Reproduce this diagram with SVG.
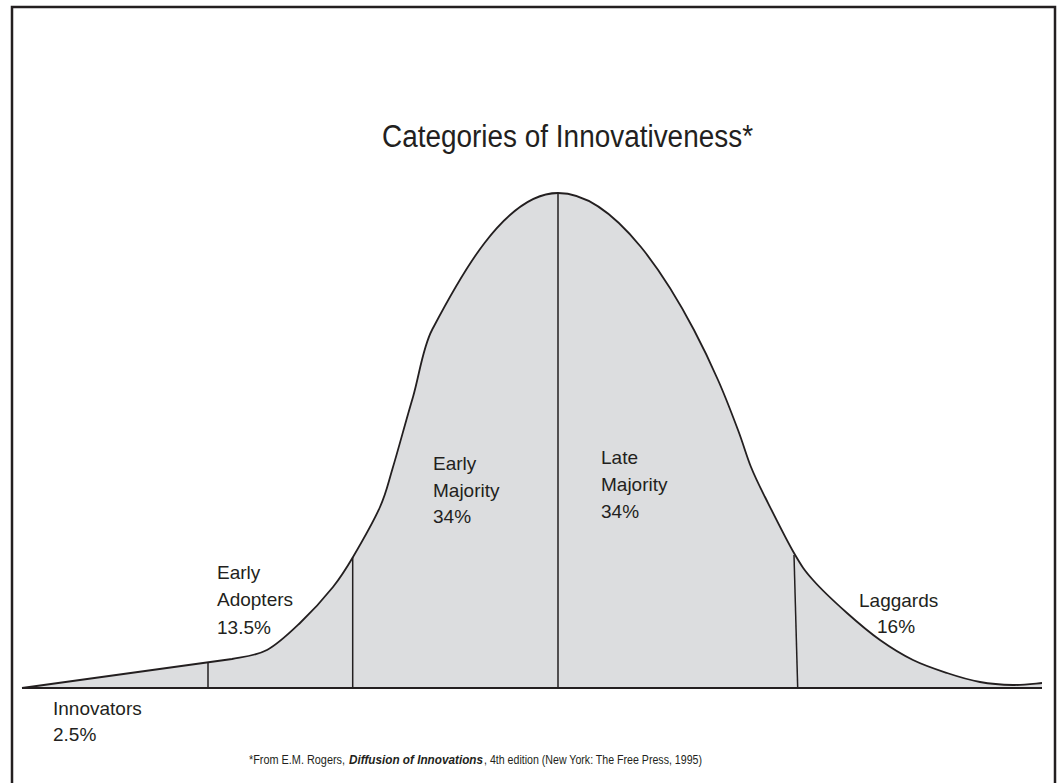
<svg xmlns="http://www.w3.org/2000/svg" width="1060" height="783" viewBox="0 0 1060 783">
<style>
.lbl{font-family:"Liberation Sans",Arial,sans-serif;font-size:19px;fill:#231f20}
.title{font-family:"Liberation Sans",Arial,sans-serif;font-size:31px;fill:#231f20}
.foot{font-family:"Liberation Sans",Arial,sans-serif;font-size:12.5px;fill:#231f20}
.div{stroke:#231f20;stroke-width:1.5;fill:none}
</style>
<defs>
<path id="bell" d="M22,688 L232,659 C241.8,657 255.7,656 267,650 C278.3,644 289,633.5 300,623 C311,612.5 324.2,598 333,587 C341.8,576 345.2,570.3 353,557 C360.8,543.7 373.3,522 380,507 C386.7,492 387.5,485.3 393,467 C398.5,448.7 406.2,419.8 413,397 C419.5,374.2 422.8,347.5 432,330 C455.7,285 503,193 558,193 C618,193 673.3,290.7 694,330 C703.2,347.5 710.7,363.3 718,380 C725.5,396.7 732.5,415.5 738,430 C743.5,444.5 746.5,455.8 751,467 C755.5,478.2 757.8,482.7 765,497 C772.2,511.3 786,539.2 794,553 C802,566.8 804.2,570 813,580 C821.8,590 835.8,603 847,613 C858.2,623 869,632.2 880,640 C891,647.8 901.8,654.5 913,660 C924.2,665.5 935.8,669.3 947,673 C958.2,676.7 969,680 980,682 C991,684 1002.7,684.8 1013,685 C1023.3,685.2 1037.2,683.3 1042,683"/>
</defs>
<rect x="0" y="0" width="1060" height="783" fill="#ffffff"/>
<rect id="frame" x="12" y="7" width="1043" height="790" fill="none" stroke="#231f20" stroke-width="2.5"/>
<g id="curve">
<path d="M22,688 L232,659 C241.8,657 255.7,656 267,650 C278.3,644 289,633.5 300,623 C311,612.5 324.2,598 333,587 C341.8,576 345.2,570.3 353,557 C360.8,543.7 373.3,522 380,507 C386.7,492 387.5,485.3 393,467 C398.5,448.7 406.2,419.8 413,397 C419.5,374.2 422.8,347.5 432,330 C455.7,285 503,193 558,193 C618,193 673.3,290.7 694,330 C703.2,347.5 710.7,363.3 718,380 C725.5,396.7 732.5,415.5 738,430 C743.5,444.5 746.5,455.8 751,467 C755.5,478.2 757.8,482.7 765,497 C772.2,511.3 786,539.2 794,553 C802,566.8 804.2,570 813,580 C821.8,590 835.8,603 847,613 C858.2,623 869,632.2 880,640 C891,647.8 901.8,654.5 913,660 C924.2,665.5 935.8,669.3 947,673 C958.2,676.7 969,680 980,682 C991,684 1002.7,684.8 1013,685 C1023.3,685.2 1037.2,683.3 1042,683 L1042,688 Z" fill="#dcdddf" stroke="none"/>
<use href="#bell" fill="none" stroke="#231f20" stroke-width="1.8"/>
</g>
<g id="dividers">
<line class="div" x1="208" y1="688" x2="208" y2="662.5"/>
<line class="div" x1="352.7" y1="688" x2="352.7" y2="557"/>
<line class="div" x1="558" y1="688" x2="558" y2="193"/>
<line class="div" x1="794" y1="555" x2="797.7" y2="688"/>
</g>
<line id="baseline" x1="22" y1="688" x2="1042" y2="688" stroke="#231f20" stroke-width="2.2"/>
<text class="title" x="382" y="147" textLength="371" lengthAdjust="spacingAndGlyphs">Categories of Innovativeness*</text>
<g id="innovators">
<text class="lbl" x="53" y="715">Innovators</text>
<text class="lbl" x="53" y="741">2.5%</text>
</g>
<g id="early-adopters">
<text class="lbl" x="217" y="579">Early</text>
<text class="lbl" x="217" y="606">Adopters</text>
<text class="lbl" x="217" y="634">13.5%</text>
</g>
<g id="early-majority">
<text class="lbl" x="433" y="470">Early</text>
<text class="lbl" x="433" y="497">Majority</text>
<text class="lbl" x="433" y="523">34%</text>
</g>
<g id="late-majority">
<text class="lbl" x="601" y="464">Late</text>
<text class="lbl" x="601" y="491">Majority</text>
<text class="lbl" x="601" y="518">34%</text>
</g>
<g id="laggards">
<text class="lbl" x="859" y="607">Laggards</text>
<text class="lbl" x="877" y="633">16%</text>
</g>
<g id="footnote">
<text class="foot" x="249" y="764" textLength="96" lengthAdjust="spacingAndGlyphs">*From E.M. Rogers,</text>
<text class="foot" x="349" y="764" textLength="134" lengthAdjust="spacingAndGlyphs" font-weight="bold" font-style="italic">Diffusion of Innovations</text>
<text class="foot" x="484" y="764" textLength="218" lengthAdjust="spacingAndGlyphs">, 4th edition (New York: The Free Press, 1995)</text>
</g>
</svg>
